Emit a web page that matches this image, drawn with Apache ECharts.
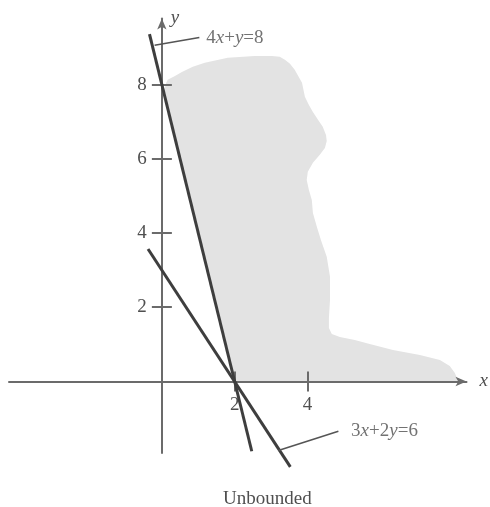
<!DOCTYPE html>
<html>
<head>
<meta charset="utf-8">
<title>Unbounded</title>
<script src="https://cdn.jsdelivr.net/npm/echarts@6/dist/echarts.min.js"></script>
<style>
  html, body { margin: 0; padding: 0; background: #fff; }
  #chart { width: 490px; height: 507px; }
</style>
</head>
<body>
<div id="chart"></div>
<script>
// tick values on the two axes
const xTicks = [2, 4]
const yTicks = [2, 4, 6, 8]

// the two constraint lines (end points)
const line1 = [[-0.34, 9.36], [2.47, -1.88]]   // 4x+y=8
const line2 = [[-0.38, 3.57], [3.53, -2.3]]    // 3x+2y=6

// leader lines running out to the equation labels
const leader1 = [[-0.2, 9.06], [1.03, 9.27]]
const leader2 = [[3.2, -1.86], [4.85, -1.34]]
const eqLabels = [
  { at: [1.22, 9.26], text: '{n|4}{i|x}{n|+}{i|y}{n|=8}' },
  { at: [5.2, -1.34], text: '{n|3}{i|x}{n|+2}{i|y}{n|=6}' }
]

// outline of the shaded (unbounded) region, clockwise from (2, 0)
const regionX = [2, 0.05, 0.12, 0.16, 0.36, 0.55, 0.85, 1.18, 1.81, 2.55, 3.02, 3.24, 3.38, 3.52, 3.65,
  3.85, 3.93, 4.04, 4.15, 4.29, 4.42, 4.51, 4.53, 4.48, 4.34, 4.15, 4.01, 3.98, 4.04, 4.12, 4.15,
  4.26, 4.37, 4.53, 4.62, 4.62, 4.59, 4.59, 4.67, 4.89, 5.30, 5.71, 6.35, 7.09, 7.64, 7.91, 8.05,
  8.13, 8.13]
const regionY = [0, 7.8, 8.05, 8.13, 8.23, 8.34, 8.48, 8.59, 8.72, 8.77, 8.77, 8.75, 8.67, 8.56, 8.40,
  8.05, 7.67, 7.45, 7.26, 7.05, 6.86, 6.64, 6.48, 6.29, 6.11, 5.89, 5.65, 5.43, 5.16, 4.89, 4.54,
  4.16, 3.81, 3.36, 2.82, 2.20, 1.71, 1.44, 1.28, 1.20, 1.12, 1.01, 0.85, 0.71, 0.58, 0.42, 0.23,
  0.04, 0]

const serif = 'Liberation Serif'
const axisColor = '#6b6b6b'
const inkColor = '#3e3e3e'
const textColor = '#4f4f4f'

const xMin = -4.2, xMax = 8.37
const yMin = -1.93, yMax = 9.78

// grid box; the axes cross at the origin inside it, so shift them there with offset
const W = 490, H = 507
const grid = { left: 9, right: 23.5, top: 18.5, bottom: 53.9 }
const gridW = W - grid.left - grid.right
const gridH = H - grid.top - grid.bottom
const xAxisOffset = -(0 - yMin) / (yMax - yMin) * gridH
const yAxisOffset = -(0 - xMin) / (xMax - xMin) * gridW

const chart = echarts.init(document.getElementById('chart'))

const tickStyle = { color: axisColor, width: 2 }

chart.setOption({
  animation: false,
  title: {
    text: 'Unbounded',
    left: 218,
    top: 485,
    textStyle: { fontFamily: serif, fontSize: 19, fontWeight: 'normal', color: textColor }
  },
  grid: { ...grid, outerBoundsMode: 'none' },
  xAxis: [
    {
      type: 'value', min: xMin, max: xMax, position: 'bottom', offset: xAxisOffset, z: 5,
      name: 'x', nameGap: 13,
      nameTextStyle: { fontFamily: serif, fontStyle: 'italic', fontSize: 19, color: textColor, align: 'left', verticalAlign: 'middle' },
      axisLine: { onZero: false, symbol: ['none', 'arrow'], symbolSize: [7, 11], lineStyle: { color: axisColor, width: 2 } },
      axisTick: { show: true, inside: true, length: 10, customValues: xTicks, lineStyle: tickStyle },
      axisLabel: { customValues: xTicks, margin: 14, fontFamily: serif, fontSize: 19, color: textColor },
      splitLine: { show: false }
    },
    {
      type: 'value', min: xMin, max: xMax, position: 'bottom', offset: xAxisOffset, z: 5,
      axisLine: { show: false, onZero: false },
      axisTick: { show: true, length: 10, customValues: xTicks, lineStyle: tickStyle },
      axisLabel: { show: false },
      splitLine: { show: false }
    }
  ],
  yAxis: [
    {
      type: 'value', min: yMin, max: yMax, position: 'left', offset: yAxisOffset, z: 5,
      name: 'y', nameLocation: 'end', nameGap: 1,
      nameTextStyle: { fontFamily: serif, fontStyle: 'italic', fontSize: 19, color: textColor, align: 'left', verticalAlign: 'middle', padding: [0, 0, 0, 9] },
      axisLine: { onZero: false, symbol: ['none', 'arrow'], symbolSize: [7, 11], lineStyle: { color: axisColor, width: 2 } },
      axisTick: { show: true, inside: true, length: 10, customValues: yTicks, lineStyle: tickStyle },
      axisLabel: { customValues: yTicks, margin: 15, fontFamily: serif, fontSize: 19, color: textColor },
      splitLine: { show: false }
    },
    {
      type: 'value', min: yMin, max: yMax, position: 'left', offset: yAxisOffset, z: 5,
      axisLine: { show: false, onZero: false },
      axisTick: { show: true, length: 10, customValues: yTicks, lineStyle: tickStyle },
      axisLabel: { show: false },
      splitLine: { show: false }
    }
  ],
  series: [
    {
      // shaded region
      type: 'custom',
      z: 1,
      silent: true,
      data: regionX.map((x, i) => [x, regionY[i]]),
      renderItem: (params, api) => {
        if (params.dataIndex !== 0) return
        const pts = regionX.map((x, i) => api.coord([x, regionY[i]]))
        return { type: 'polygon', shape: { points: pts }, style: { fill: '#e3e3e3' } }
      }
    },
    {
      type: 'line', data: line1, symbol: 'none', clip: false, z: 6,
      lineStyle: { color: inkColor, width: 3 }
    },
    {
      type: 'line', data: line2, symbol: 'none', clip: false, z: 6,
      lineStyle: { color: inkColor, width: 3 }
    },
    {
      type: 'line', data: leader1, symbol: 'none', clip: false, z: 6,
      lineStyle: { color: '#555', width: 1.6 }
    },
    {
      type: 'line', data: leader2, symbol: 'none', clip: false, z: 6,
      lineStyle: { color: '#555', width: 1.6 }
    },
    {
      type: 'scatter', symbolSize: 0, clip: false, z: 6,
      data: eqLabels.map(d => ({ value: d.at, name: d.text })),
      label: {
        show: true, position: 'right', distance: 0,
        formatter: '{b}',
        rich: {
          n: { fontFamily: serif, fontSize: 19, color: textColor },
          i: { fontFamily: serif, fontSize: 19, fontStyle: 'italic', color: textColor }
        }
      }
    }
  ]
})

window.addEventListener('resize', () => chart.resize())
</script>
</body>
</html>
